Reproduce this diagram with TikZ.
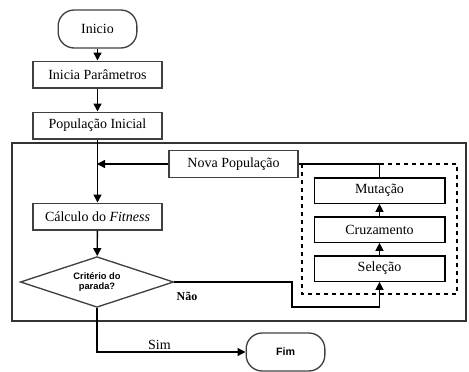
\documentclass[tikz,border=0pt]{standalone}
\usepackage{fontspec}
\setmainfont{Liberation Serif}
\setsansfont{Liberation Sans}
\usetikzlibrary{arrows.meta,positioning,shapes.geometric}

\begin{document}
\begin{tikzpicture}[x=0.75pt, y=-0.75pt,
  proc/.style={rectangle, draw=black!75, minimum width=96.75pt,
    minimum height=20pt, inner sep=1pt, font=\fontsize{10.5}{12}\selectfont},
  opbox/.style={rectangle, draw, minimum width=98pt, minimum height=19pt,
    inner sep=1pt, font=\fontsize{10.5}{12}\selectfont},
  terminal/.style={rectangle, draw=black!75, rounded corners=12pt,
    minimum width=59pt, minimum height=28.5pt, inner sep=1pt},
  decision/.style={diamond, draw=black!75, aspect=3, minimum width=115pt,
    minimum height=38pt, inner sep=0pt, align=center,
    font=\sffamily\bfseries\fontsize{7}{8}\selectfont},
  arr/.style={-{Triangle[length=6pt,width=6pt]}},
  line width=1pt
]
  \useasboundingbox (0,0) rectangle (469,372);

  % outer frame and operator group
  \draw[line width=1.5pt, black!80] (12,143) rectangle (466,321);
  \draw[dashed, line width=0.8pt] (302,164) rectangle (457,294);

  % main flow
  \node[terminal, font=\fontsize{10.5}{12}\selectfont] (inicio) at (97.5,29) {Inicio};
  \node[proc] (param) at (97.5,74.5) {Inicia Parâmetros};
  \node[proc] (popini) at (97.5,125.5) {População Inicial};
  \node[proc] (fitness) at (97.5,216.5) {Cálculo do \textit{Fitness}};
  \node[decision] (crit) at (97,282) {Critério do\\parada?};
  \node[terminal, font=\sffamily\bfseries\fontsize{8}{10}\selectfont] (fim) at (285.5,352) {Fim};

  % genetic operators
  \node[proc] (novapop) at (233.5,164) {Nova População};
  \node[opbox] (mut) at (379.5,190.5) {Mutação};
  \node[opbox] (cruz) at (379.5,229.5) {Cruzamento};
  \node[opbox] (sel) at (379.5,268.5) {Seleção};

  \coordinate (merge) at (97,164);
  \coordinate (nao) at (292,307);

  \draw[arr] (inicio) -- (param);
  \draw[arr] (param) -- (popini);
  \draw[arr] (popini) -- (fitness);
  \draw[arr] (novapop) -- (merge);
  \draw[arr] (fitness) -- (crit);
  \draw[arr] (crit.east) -| (nao) -| (sel.south);
  \node[font=\bfseries\fontsize{9}{10}\selectfont] at (187,296) {Não};
  \draw[arr] (sel) -- (cruz);
  \draw[arr] (cruz) -- (mut);
  \draw (mut.north) |- (novapop.east);
  \draw[arr] (crit.south) |- node[pos=0.71, above, inner sep=1pt,
    font=\fontsize{10.5}{12}\selectfont] {Sim} (fim.west);
\end{tikzpicture}
\end{document}
